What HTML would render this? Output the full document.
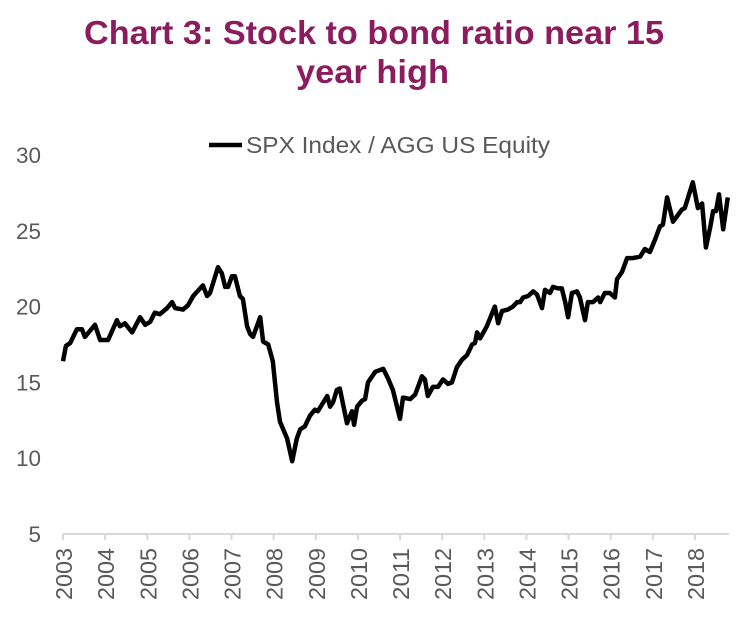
<!DOCTYPE html>
<html><head><meta charset="utf-8">
<style>
body{margin:0;background:#fff;width:756px;height:626px;overflow:hidden;font-family:"Liberation Sans",Arial,sans-serif}
</style></head><body>
<svg id="chart" width="756" height="626" style="position:absolute;left:0;top:0">
<text x="84" y="44" font-size="33" font-weight="bold" fill="#8B1C5E" textLength="580" lengthAdjust="spacingAndGlyphs">Chart 3: Stock to bond ratio near 15</text>
<text x="296" y="83" font-size="33" font-weight="bold" fill="#8B1C5E" textLength="153" lengthAdjust="spacingAndGlyphs">year high</text>
</svg>
<script>
const yTicks=[5,10,15,20,25,30];
const xYears=[2003,2004,2005,2006,2007,2008,2009,2010,2011,2012,2013,2014,2015,2016,2017,2018];
const seriesName="SPX Index / AGG US Equity";
const dates=[2003.00,2003.07,2003.17,2003.33,2003.45,2003.52,2003.76,2003.88,2004.07,2004.28,2004.35,2004.47,2004.64,2004.83,2004.95,2005.07,2005.18,2005.30,2005.47,2005.59,2005.66,2005.85,2005.97,2006.09,2006.32,2006.42,2006.49,2006.68,2006.77,2006.85,2006.92,2007.01,2007.08,2007.20,2007.27,2007.37,2007.44,2007.51,2007.68,2007.75,2007.87,2007.98,2008.08,2008.15,2008.32,2008.44,2008.55,2008.63,2008.74,2008.86,2008.98,2009.05,2009.27,2009.34,2009.41,2009.50,2009.57,2009.74,2009.86,2009.91,2009.98,2010.10,2010.17,2010.24,2010.41,2010.60,2010.71,2010.83,2011.00,2011.07,2011.24,2011.36,2011.52,2011.59,2011.66,2011.78,2011.90,2012.02,2012.14,2012.23,2012.35,2012.47,2012.59,2012.71,2012.78,2012.83,2012.90,2013.06,2013.25,2013.33,2013.42,2013.56,2013.68,2013.78,2013.85,2013.92,2014.04,2014.16,2014.25,2014.37,2014.44,2014.56,2014.63,2014.75,2014.84,2014.92,2014.99,2015.08,2015.20,2015.27,2015.39,2015.46,2015.58,2015.70,2015.75,2015.86,2015.98,2016.10,2016.15,2016.27,2016.39,2016.53,2016.70,2016.81,2016.93,2017.05,2017.17,2017.24,2017.34,2017.48,2017.69,2017.76,2017.95,2018.07,2018.17,2018.26,2018.36,2018.43,2018.50,2018.57,2018.67,2018.78];
const values=[16.4,17.4,17.6,18.5,18.5,18.0,18.8,17.8,17.8,19.1,18.7,18.9,18.3,19.3,18.8,19.0,19.6,19.5,19.9,20.3,19.9,19.8,20.1,20.7,21.4,20.7,20.9,22.6,22.2,21.3,21.3,22.0,22.0,20.7,20.5,18.7,18.2,18.0,19.3,17.7,17.5,16.4,13.7,12.4,11.3,9.8,11.3,11.9,12.1,12.8,13.2,13.1,14.1,13.4,13.7,14.5,14.6,12.3,13.1,12.2,13.4,13.8,13.9,15.0,15.7,15.9,15.3,14.5,12.6,14.0,13.9,14.2,15.4,15.2,14.1,14.7,14.7,15.2,14.9,15.0,16.0,16.5,16.8,17.5,17.6,18.3,17.9,18.7,20.0,18.9,19.7,19.8,20.0,20.3,20.3,20.6,20.7,21.0,20.8,19.9,21.1,20.9,21.3,21.2,21.2,20.3,19.3,20.9,21.0,20.6,19.1,20.3,20.3,20.6,20.3,20.9,20.9,20.6,21.8,22.3,23.2,23.2,23.3,23.8,23.6,24.4,25.3,25.4,27.2,25.6,26.4,26.5,28.2,26.5,26.8,23.9,25.2,26.3,26.3,27.4,25.1,27.2];
const NS="http://www.w3.org/2000/svg";
const svg=document.getElementById('chart');
const x0=63,x1=729,y0=534,y1=155;
const xs=d=>x0+(d-2003)*42.13;
const ys=v=>y0-(v-5)*(y0-y1)/25;
function mk(t,a){const e=document.createElementNS(NS,t);for(const k in a)e.setAttribute(k,a[k]);svg.appendChild(e);return e;}
yTicks.forEach(v=>{
  const t=mk('text',{x:41,y:ys(v)+8,'text-anchor':'end','font-size':22,fill:'#595959','font-family':'Liberation Sans, sans-serif',textLength:String(v).length*12.5,lengthAdjust:'spacingAndGlyphs'});
  t.textContent=v;
  
  
});
const ax=mk('line',{x1:x0,y1:y0,x2:x1,y2:y0,stroke:'#d9d9d9','stroke-width':2});


xYears.forEach(yr=>{
  const x=xs(yr);
  const tk=mk('line',{x1:x,y1:y0,x2:x,y2:y0+6,stroke:'#d9d9d9','stroke-width':2});
  
  
  const t=mk('text',{x:0,y:0,'text-anchor':'end','font-size':23,fill:'#595959','font-family':'Liberation Sans, sans-serif',textLength:52,lengthAdjust:'spacingAndGlyphs',transform:`translate(${x+9},${y0+14}) rotate(-90)`});
  t.textContent=yr;
  
  
});
const p=mk('polyline',{points:dates.map((d,i)=>xs(d).toFixed(1)+','+ys(values[i]).toFixed(1)).join(' '),fill:'none',stroke:'#000','stroke-width':4.5,'stroke-linejoin':'round'});


const ll=mk('line',{x1:209,y1:145,x2:242,y2:145,stroke:'#000','stroke-width':4.5});


const lt=mk('text',{x:246,y:153,'font-size':23,fill:'#595959','font-family':'Liberation Sans, sans-serif',textLength:304,lengthAdjust:'spacingAndGlyphs'});
lt.textContent=seriesName;


</script>
</body></html>
